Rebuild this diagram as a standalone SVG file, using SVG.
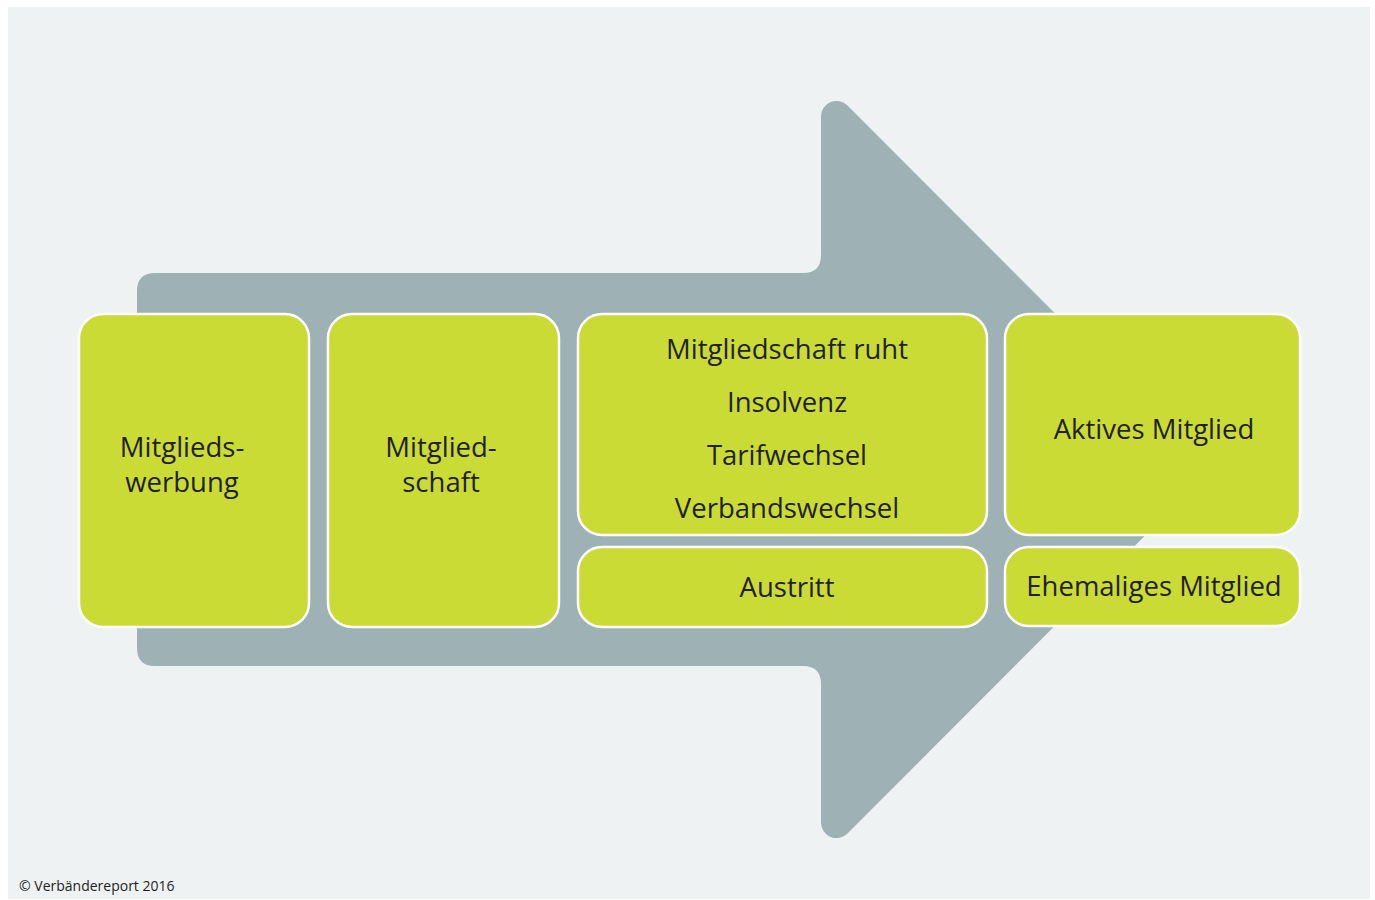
<svg xmlns="http://www.w3.org/2000/svg" width="1375" height="900" viewBox="0 0 1375 900">
<style>
.box{fill:#CBDB36;stroke:#FFFFFF;stroke-width:2.5}
.t{font-family:"Open Sans","Liberation Sans",sans-serif;font-size:27.5px;fill:#231F20;text-anchor:middle}
.f{font-family:"Open Sans","Liberation Sans",sans-serif;font-size:14px;fill:#231F20}
</style>
<rect x="0" y="0" width="1375" height="900" fill="#FFFFFF"/>
<rect x="8" y="7" width="1362" height="892" fill="#EEF2F3"/>
<g id="arrow">
<path fill="#9EB1B5" d="M 155,273 L 803,273 Q 821,273 821,255 L 821,116.5 A 15.5 15.5 0 0 1 847.5,105.5 L 1211,469.5 L 847.5,833.5 A 15.5 15.5 0 0 1 821,822.5 L 821,684 Q 821,666 803,666 L 155,666 Q 137,666 137,648 L 137,291 Q 137,273 155,273 Z"/>
</g>
<g id="n1"><rect class="box" x="79" y="314" width="230" height="313" rx="24"/>
<text class="t" x="182" y="457">Mitglieds-</text><text class="t" x="182" y="492">werbung</text></g>
<g id="n2"><rect class="box" x="328" y="314" width="231" height="313" rx="24"/>
<text class="t" x="441" y="457">Mitglied-</text><text class="t" x="441" y="492">schaft</text></g>
<g id="n3"><rect class="box" x="578" y="314" width="409" height="221" rx="24"/>
<text class="t" x="787" y="359">Mitgliedschaft ruht</text>
<text class="t" x="787" y="412">Insolvenz</text>
<text class="t" x="787" y="465">Tarifwechsel</text>
<text class="t" x="787" y="518">Verbandswechsel</text></g>
<g id="n4"><rect class="box" x="578" y="547" width="409" height="80" rx="24"/>
<text class="t" x="787" y="597">Austritt</text></g>
<g id="n5"><rect class="box" x="1005" y="314" width="295" height="221" rx="24"/>
<text class="t" x="1154" y="439">Aktives Mitglied</text></g>
<g id="n6"><rect class="box" x="1005" y="547" width="295" height="79" rx="24"/>
<text class="t" x="1154" y="596">Ehemaliges Mitglied</text></g>
<g id="connectors"></g>
<text class="f" x="19" y="891">© Verbändereport 2016</text>
</svg>
